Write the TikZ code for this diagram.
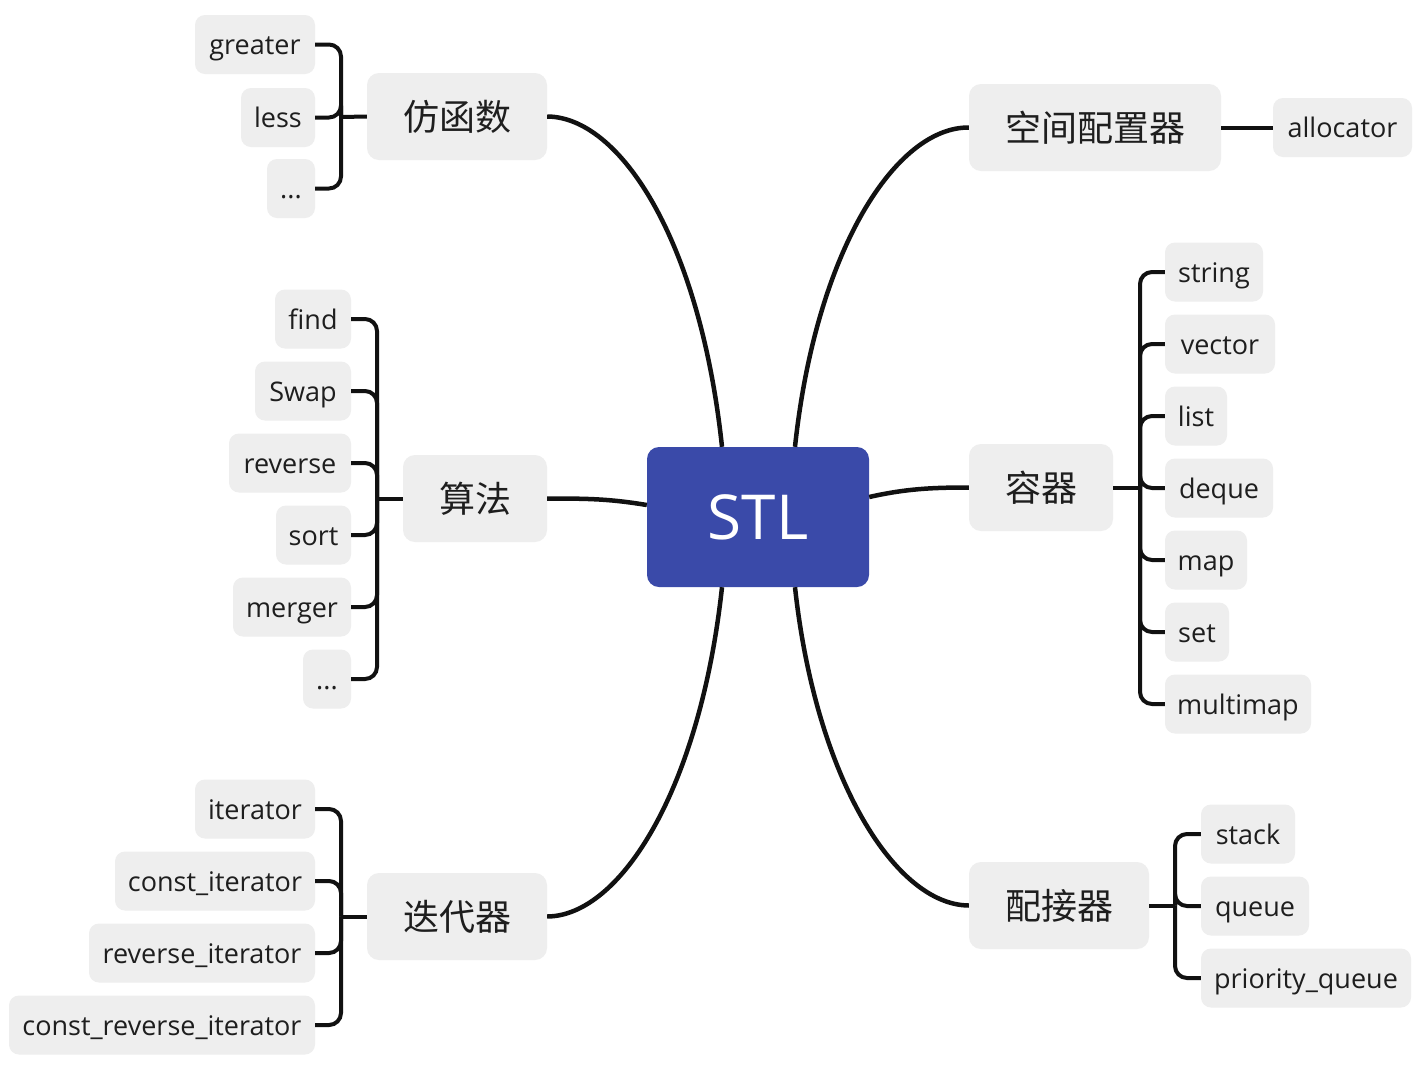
\documentclass[tikz,border=0pt]{standalone}
\usepackage{fontspec}
\setmainfont{Open Sans}
\newfontfamily\cjk{Noto Sans CJK SC}
\definecolor{boxfill}{HTML}{EEEEEE}
\definecolor{txt}{HTML}{1E1E1E}
\definecolor{ln}{HTML}{111111}
\definecolor{stlblue}{HTML}{3A4AA9}
\tikzset{
  leaf/.style={fill=boxfill, rounded corners=10pt, minimum height=59pt, inner sep=0pt, text=txt, text height=22pt, text depth=2pt, font=\fontsize{27}{31}\selectfont},
  topic/.style={fill=boxfill, rounded corners=12pt, minimum height=87pt, inner sep=0pt, text=txt, text height=30pt, text depth=3pt, font=\cjk\fontsize{36}{40}\selectfont},
  central/.style={fill=stlblue, rounded corners=12pt, minimum width=222pt, minimum height=140pt, inner sep=0pt, text=white, text height=44pt, text depth=0pt, font=\fontsize{62}{68}\selectfont},
  conn/.style={draw=ln, line width=4.5pt},
  br/.style={draw=ln, line width=4pt, rounded corners=12pt},
}
\begin{document}
\begin{tikzpicture}[x=1pt,y=-1pt]
\useasboundingbox[fill=white] (0,0) rectangle (1428,1072);

% central
\node[central] (stl) at (758,517) {STL};
\coordinate (t1) at ([xshift=-36pt]stl.north);
\coordinate (t2) at ([xshift=37pt]stl.north);
\coordinate (b1) at ([xshift=-36pt]stl.south);
\coordinate (b2) at ([xshift=37pt]stl.south);
\coordinate (l1) at ([yshift=12pt]stl.west);
\coordinate (r1) at ([yshift=20pt]stl.east);

% topics
\node[topic, minimum width=180pt] (fhs) at (457,116.5) {仿函数};
\node[topic, minimum width=252pt] (kj) at (1095,127.5) {空间配置器};
\node[topic, minimum width=144pt] (rq) at (1041,487.5) {容器};
\node[topic, minimum width=144pt] (sf) at (475,498.5) {算法};
\node[topic, minimum width=180pt] (ddq) at (457,916.5) {迭代器};
\node[topic, minimum width=180pt] (pjq) at (1059,905.5) {配接器};

% main curves
\draw[conn] (t1) .. controls (700,240) and (620,117) .. (fhs.east);
\draw[conn] (t2) .. controls (816,250) and (896,127) .. (kj.west);
\draw[conn] (b1) .. controls (700,790) and (620,916) .. (ddq.east);
\draw[conn] (b2) .. controls (816,780) and (896,905) .. (pjq.west);
\draw[conn] (l1) .. controls (610,499) and (590,498.5) .. (sf.east);
\draw[conn] (r1) .. controls (905,489) and (930,487.5) .. (rq.west);

% 仿函数 leaves
\node[leaf, minimum width=120pt] (greater) at (255,44.5) {greater};
\node[leaf, minimum width=74pt] (less) at (278,117.5) {less};
\node[leaf, minimum width=48pt] (fdots) at (291,188.5) {...};
\coordinate (jf) at (341,117);
\draw[br] (jf) -- (fhs.west);
\foreach \n in {greater,less,fdots} \draw[br] (\n.east) -| (jf);

% 算法 leaves
\node[leaf, minimum width=76pt] (find) at (313,319) {find};
\node[leaf, minimum width=96pt] (swap) at (303,391) {Swap};
\node[leaf, minimum width=122pt] (reverse) at (290,463) {reverse};
\node[leaf, minimum width=75pt] (sort) at (313.5,535) {sort};
\node[leaf, minimum width=118pt] (merger) at (292,607) {merger};
\node[leaf, minimum width=48pt] (sdots) at (327,679) {...};
\coordinate (js) at (377,498.5);
\draw[br] (js) -- (sf.west);
\foreach \n in {find,swap,reverse,sort,merger,sdots} \draw[br] (\n.east) -| (js);

% 迭代器 leaves
\node[leaf, minimum width=120pt] (it) at (255,809) {iterator};
\node[leaf, minimum width=200pt] (cit) at (215,881) {const\_iterator};
\node[leaf, minimum width=226pt] (rit) at (202,953) {reverse\_iterator};
\node[leaf, minimum width=306pt] (crit) at (162,1025) {const\_reverse\_iterator};
\coordinate (jd) at (341,916.5);
\draw[br] (jd) -- (ddq.west);
\foreach \n in {it,cit,rit,crit} \draw[br] (\n.east) -| (jd);

% 空间配置器 leaf
\node[leaf, minimum width=139pt] (alloc) at (1342.5,127.5) {allocator};
\draw[br] (kj.east) -- (alloc.west);

% 容器 leaves
\node[leaf, minimum width=98pt] (string) at (1214,272) {string};
\node[leaf, minimum width=110pt] (vector) at (1220,344) {vector};
\node[leaf, minimum width=62pt] (list) at (1196,416) {list};
\node[leaf, minimum width=108pt] (deque) at (1219,488) {deque};
\node[leaf, minimum width=82pt] (map) at (1206,560) {map};
\node[leaf, minimum width=64pt] (set) at (1197,632) {set};
\node[leaf, minimum width=146pt] (multimap) at (1238,704) {multimap};
\coordinate (jr) at (1140,487.5);
\draw[br] (rq.east) -- (jr);
\foreach \n in {string,vector,list,deque,map,set,multimap} \draw[br] (jr) |- (\n.west);

% 配接器 leaves
\node[leaf, minimum width=94pt] (stack) at (1248,834) {stack};
\node[leaf, minimum width=108pt] (queue) at (1255,906) {queue};
\node[leaf, minimum width=210pt] (pq) at (1306,978) {priority\_queue};
\coordinate (jp) at (1175,905.5);
\draw[br] (pjq.east) -- (jp);
\foreach \n in {stack,queue,pq} \draw[br] (jp) |- (\n.west);
\end{tikzpicture}
\end{document}
